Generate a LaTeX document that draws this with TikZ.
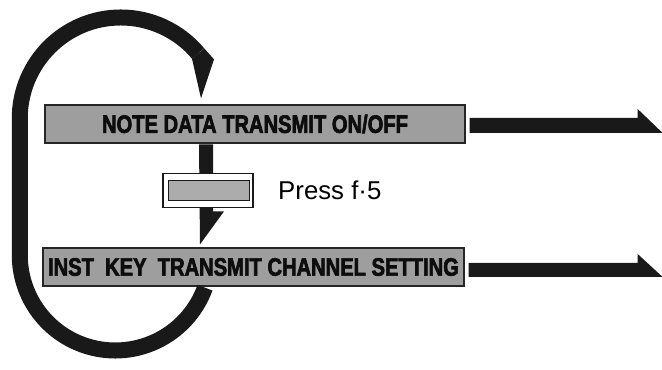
\documentclass[tikz,border=0pt]{standalone}
\usepackage{fontspec}
\setmainfont{Liberation Sans}
\newfontfamily\panelfont[FakeStretch=0.8, FakeBold=2.5]{Liberation Sans}
\usetikzlibrary{calc}

\definecolor{boxgrey}{RGB}{158,158,158}
\definecolor{keygrey}{RGB}{172,172,172}

\begin{document}
\begin{tikzpicture}[x=0.03cm, y=-0.03cm,
    panel/.style={draw=black!85, line width=1.1pt, fill=boxgrey, inner sep=0pt,
        minimum width=12.6cm, minimum height=1.14cm,
        font=\panelfont\bfseries\fontsize{21.5}{21.5}\selectfont, text=black!95},
    keycap/.style={draw=black!90, line width=1.5pt, fill=white, inner sep=0pt,
        minimum width=2.72cm, minimum height=1.02cm},
    keyface/.style={draw=black!90, line width=1.3pt, fill=keygrey, inner sep=0pt,
        minimum width=2.42cm, minimum height=0.6cm},
    band/.style={draw=black!90, line width=0.48cm},
    fat/.style={fill=black!90}
]
\useasboundingbox (0,0) rectangle (662,370);

% Panels
\node[panel] (note) at (255,124) {NOTE DATA TRANSMIT ON/OFF};
\node[panel, minimum width=12.63cm] (inst) at (253.5,267) {INST\ \ KEY\ \ TRANSMIT CHANNEL SETTING};

% Down arrow (f-5 steps to the next page)
\coordinate (dx) at (206,0);
\fill[fat] ($(note.south -| dx)+(-7,0.7)$) -- ++(14,0) -- ++(0,67) -- ++(11,0)
    -- ($(inst.north -| dx)+(-6,-3)$) -- cycle;

% Key with its label
\node[keycap] (key) at (208,190.5) {};
\node[keyface] (keyin) at (209,190.5) {};
\node[anchor=base west, inner sep=0pt, font=\fontsize{22}{22}\selectfont] (press) at (278,200) {Press f·5};

% Loop back from the last page to the first
\coordinate (bx) at (205,0);
\draw[band] ($(inst.south -| bx)+(0,1)$) arc[start angle=20, end angle=180, radius=95.5]
    -- ++(0,-136.5) arc[start angle=180, end angle=320, radius=101] coordinate (hb);
\fill[fat] ($(hb)+(140:8)$) -- ($(note.north -| dx)+(-5,-6)$) -- ++(13,-39) -- ($(hb)+(320:8)$) -- cycle;

% Arrows out to the right
\fill[fat] ($(note.east)+(4,-6)$) -- ++(168,0) -- ++(0,-9) -- ++(25,24) -- ++(-193,0) -- cycle;
\fill[fat] ($(inst.east)+(4,-4)$) -- ++(169,0) -- ++(0,-9) -- ++(25,23) -- ++(-194,0) -- cycle;

\end{tikzpicture}
\end{document}
